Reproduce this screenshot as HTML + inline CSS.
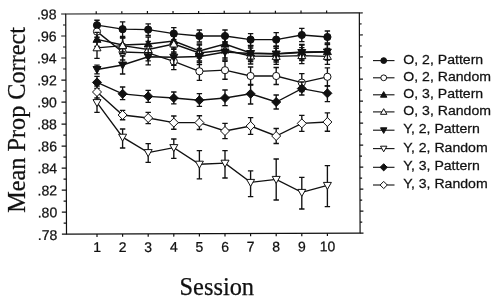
<!DOCTYPE html><html><head><meta charset="utf-8"><title>Chart</title><style>html,body{margin:0;padding:0;background:#fff}svg{display:block}text{fill:#111;stroke:#111;stroke-width:.25px}.a{font-family:"Liberation Sans",Arial,sans-serif}.t{font-family:"Liberation Serif","Times New Roman",serif}</style></head><body>
<svg width="499" height="302" viewBox="0 0 499 302">
<rect width="499" height="302" fill="#fff"/>
<g transform="rotate(-0.2 66.5 234.2)">
<g stroke="#111" stroke-width="1.2" fill="none" stroke-linecap="butt">
<rect x="66.5" y="14.0" width="293.6" height="220.2"/>
<path d="M61.9,14.0H66.5M360.1,14.0h3.4"/>
<path d="M63.7,25.0H66.5M360.1,25.0h2.2"/>
<path d="M61.9,36.0H66.5M360.1,36.0h3.4"/>
<path d="M63.7,47.0H66.5M360.1,47.0h2.2"/>
<path d="M61.9,58.0H66.5M360.1,58.0h3.4"/>
<path d="M63.7,69.0H66.5M360.1,69.0h2.2"/>
<path d="M61.9,80.1H66.5M360.1,80.1h3.4"/>
<path d="M63.7,91.1H66.5M360.1,91.1h2.2"/>
<path d="M61.9,102.1H66.5M360.1,102.1h3.4"/>
<path d="M63.7,113.1H66.5M360.1,113.1h2.2"/>
<path d="M61.9,124.1H66.5M360.1,124.1h3.4"/>
<path d="M63.7,135.1H66.5M360.1,135.1h2.2"/>
<path d="M61.9,146.1H66.5M360.1,146.1h3.4"/>
<path d="M63.7,157.1H66.5M360.1,157.1h2.2"/>
<path d="M61.9,168.1H66.5M360.1,168.1h3.4"/>
<path d="M63.7,179.2H66.5M360.1,179.2h2.2"/>
<path d="M61.9,190.2H66.5M360.1,190.2h3.4"/>
<path d="M63.7,201.2H66.5M360.1,201.2h2.2"/>
<path d="M61.9,212.2H66.5M360.1,212.2h3.4"/>
<path d="M63.7,223.2H66.5M360.1,223.2h2.2"/>
<path d="M61.9,234.2H66.5M360.1,234.2h3.4"/>
<path d="M97.0,234.2v2.8M97.0,14.0v-2.6"/>
<path d="M122.6,234.2v2.8M122.6,14.0v-2.6"/>
<path d="M148.2,234.2v2.8M148.2,14.0v-2.6"/>
<path d="M173.8,234.2v2.8M173.8,14.0v-2.6"/>
<path d="M199.4,234.2v2.8M199.4,14.0v-2.6"/>
<path d="M225.0,234.2v2.8M225.0,14.0v-2.6"/>
<path d="M250.6,234.2v2.8M250.6,14.0v-2.6"/>
<path d="M276.2,234.2v2.8M276.2,14.0v-2.6"/>
<path d="M301.8,234.2v2.8M301.8,14.0v-2.6"/>
<path d="M327.4,234.2v2.8M327.4,14.0v-2.6"/>
</g>
<text class="a" x="57.3" y="19.1" font-size="14.1" text-anchor="end">.98</text>
<text class="a" x="57.3" y="41.1" font-size="14.1" text-anchor="end">.96</text>
<text class="a" x="57.3" y="63.1" font-size="14.1" text-anchor="end">.94</text>
<text class="a" x="57.3" y="85.2" font-size="14.1" text-anchor="end">.92</text>
<text class="a" x="57.3" y="107.2" font-size="14.1" text-anchor="end">.90</text>
<text class="a" x="57.3" y="129.2" font-size="14.1" text-anchor="end">.88</text>
<text class="a" x="57.3" y="151.2" font-size="14.1" text-anchor="end">.86</text>
<text class="a" x="57.3" y="173.2" font-size="14.1" text-anchor="end">.84</text>
<text class="a" x="57.3" y="195.3" font-size="14.1" text-anchor="end">.82</text>
<text class="a" x="57.3" y="217.3" font-size="14.1" text-anchor="end">.80</text>
<text class="a" x="57.3" y="240.0" font-size="14.1" text-anchor="end">.78</text>
<text class="a" x="97.0" y="252.2" font-size="14" text-anchor="middle">1</text>
<text class="a" x="122.6" y="252.2" font-size="14" text-anchor="middle">2</text>
<text class="a" x="148.2" y="252.2" font-size="14" text-anchor="middle">3</text>
<text class="a" x="173.8" y="252.2" font-size="14" text-anchor="middle">4</text>
<text class="a" x="199.4" y="252.2" font-size="14" text-anchor="middle">5</text>
<text class="a" x="225.0" y="252.2" font-size="14" text-anchor="middle">6</text>
<text class="a" x="250.6" y="252.2" font-size="14" text-anchor="middle">7</text>
<text class="a" x="276.2" y="252.2" font-size="14" text-anchor="middle">8</text>
<text class="a" x="301.8" y="252.2" font-size="14" text-anchor="middle">9</text>
<text class="a" x="327.4" y="252.2" font-size="14" text-anchor="middle">10</text>
</g>
<text class="t" x="216.8" y="295" font-size="24.4" text-anchor="middle">Session</text>
<text class="t" transform="translate(24.8,119.9) rotate(-90)" font-size="24.25" text-anchor="middle">Mean Prop Correct</text>
<g stroke="#111" stroke-width="1.35" fill="none">
<polyline points="97.0,25.2 122.6,29.2 148.2,29.6 173.8,33.6 199.4,36.0 225.0,36.0 250.6,39.6 276.2,39.6 301.8,35.0 327.4,37.0"/>
<path d="M97.0,20.2V30.2M94.3,20.2h5.4M94.3,30.2h5.4M122.6,21.9V36.5M119.9,21.9h5.4M119.9,36.5h5.4M148.2,23.8V35.4M145.5,23.8h5.4M145.5,35.4h5.4M173.8,27.6V39.6M171.1,27.6h5.4M171.1,39.6h5.4M199.4,30.0V42.0M196.7,30.0h5.4M196.7,42.0h5.4M225.0,30.0V42.0M222.3,30.0h5.4M222.3,42.0h5.4M250.6,33.6V45.6M247.9,33.6h5.4M247.9,45.6h5.4M276.2,32.6V46.6M273.5,32.6h5.4M273.5,46.6h5.4M301.8,28.4V41.6M299.1,28.4h5.4M299.1,41.6h5.4M327.4,31.0V43.0M324.7,31.0h5.4M324.7,43.0h5.4"/>
</g>
<circle cx="97.0" cy="25.2" r="3.6" fill="#111" stroke="#111" stroke-width="1"/>
<circle cx="122.6" cy="29.2" r="3.6" fill="#111" stroke="#111" stroke-width="1"/>
<circle cx="148.2" cy="29.6" r="3.6" fill="#111" stroke="#111" stroke-width="1"/>
<circle cx="173.8" cy="33.6" r="3.6" fill="#111" stroke="#111" stroke-width="1"/>
<circle cx="199.4" cy="36.0" r="3.6" fill="#111" stroke="#111" stroke-width="1"/>
<circle cx="225.0" cy="36.0" r="3.6" fill="#111" stroke="#111" stroke-width="1"/>
<circle cx="250.6" cy="39.6" r="3.6" fill="#111" stroke="#111" stroke-width="1"/>
<circle cx="276.2" cy="39.6" r="3.6" fill="#111" stroke="#111" stroke-width="1"/>
<circle cx="301.8" cy="35.0" r="3.6" fill="#111" stroke="#111" stroke-width="1"/>
<circle cx="327.4" cy="37.0" r="3.6" fill="#111" stroke="#111" stroke-width="1"/>
<g stroke="#111" stroke-width="1.35" fill="none">
<polyline points="97.0,31.6 122.6,52.0 148.2,52.8 173.8,61.4 199.4,71.3 225.0,70.2 250.6,76.0 276.2,76.0 301.8,82.6 327.4,76.8"/>
<path d="M97.0,23.6V39.6M94.3,23.6h5.4M94.3,39.6h5.4M122.6,44.0V60.0M119.9,44.0h5.4M119.9,60.0h5.4M148.2,44.8V60.8M145.5,44.8h5.4M145.5,60.8h5.4M173.8,53.2V69.6M171.1,53.2h5.4M171.1,69.6h5.4M199.4,62.3V80.3M196.7,62.3h5.4M196.7,80.3h5.4M225.0,61.2V79.2M222.3,61.2h5.4M222.3,79.2h5.4M250.6,67.0V85.0M247.9,67.0h5.4M247.9,85.0h5.4M276.2,67.5V84.5M273.5,67.5h5.4M273.5,84.5h5.4M301.8,73.6V91.6M299.1,73.6h5.4M299.1,91.6h5.4M327.4,67.8V85.8M324.7,67.8h5.4M324.7,85.8h5.4"/>
</g>
<circle cx="97.0" cy="31.6" r="3.6" fill="#fff" stroke="#111" stroke-width="1"/>
<circle cx="122.6" cy="52.0" r="3.6" fill="#fff" stroke="#111" stroke-width="1"/>
<circle cx="148.2" cy="52.8" r="3.6" fill="#fff" stroke="#111" stroke-width="1"/>
<circle cx="173.8" cy="61.4" r="3.6" fill="#fff" stroke="#111" stroke-width="1"/>
<circle cx="199.4" cy="71.3" r="3.6" fill="#fff" stroke="#111" stroke-width="1"/>
<circle cx="225.0" cy="70.2" r="3.6" fill="#fff" stroke="#111" stroke-width="1"/>
<circle cx="250.6" cy="76.0" r="3.6" fill="#fff" stroke="#111" stroke-width="1"/>
<circle cx="276.2" cy="76.0" r="3.6" fill="#fff" stroke="#111" stroke-width="1"/>
<circle cx="301.8" cy="82.6" r="3.6" fill="#fff" stroke="#111" stroke-width="1"/>
<circle cx="327.4" cy="76.8" r="3.6" fill="#fff" stroke="#111" stroke-width="1"/>
<g stroke="#111" stroke-width="1.35" fill="none">
<polyline points="97.0,39.3 122.6,45.0 148.2,44.0 173.8,41.0 199.4,51.0 225.0,44.0 250.6,53.0 276.2,53.6 301.8,52.0 327.4,51.6"/>
<path d="M97.0,32.3V46.3M94.3,32.3h5.4M94.3,46.3h5.4M122.6,38.0V52.0M119.9,38.0h5.4M119.9,52.0h5.4M148.2,37.0V51.0M145.5,37.0h5.4M145.5,51.0h5.4M173.8,34.0V48.0M171.1,34.0h5.4M171.1,48.0h5.4M199.4,44.0V58.0M196.7,44.0h5.4M196.7,58.0h5.4M225.0,37.0V51.0M222.3,37.0h5.4M222.3,51.0h5.4M250.6,46.0V60.0M247.9,46.0h5.4M247.9,60.0h5.4M276.2,46.6V60.6M273.5,46.6h5.4M273.5,60.6h5.4M301.8,45.0V59.0M299.1,45.0h5.4M299.1,59.0h5.4M327.4,44.6V58.6M324.7,44.6h5.4M324.7,58.6h5.4"/>
</g>
<polygon points="97.0,35.3 93.0,42.3 101.0,42.3" fill="#111" stroke="#111" stroke-width="1"/>
<polygon points="122.6,41.0 118.6,48.0 126.6,48.0" fill="#111" stroke="#111" stroke-width="1"/>
<polygon points="148.2,40.0 144.2,47.0 152.2,47.0" fill="#111" stroke="#111" stroke-width="1"/>
<polygon points="173.8,37.0 169.8,44.0 177.8,44.0" fill="#111" stroke="#111" stroke-width="1"/>
<polygon points="199.4,47.0 195.4,54.0 203.4,54.0" fill="#111" stroke="#111" stroke-width="1"/>
<polygon points="225.0,40.0 221.0,47.0 229.0,47.0" fill="#111" stroke="#111" stroke-width="1"/>
<polygon points="250.6,49.0 246.6,56.0 254.6,56.0" fill="#111" stroke="#111" stroke-width="1"/>
<polygon points="276.2,49.6 272.2,56.6 280.2,56.6" fill="#111" stroke="#111" stroke-width="1"/>
<polygon points="301.8,48.0 297.8,55.0 305.8,55.0" fill="#111" stroke="#111" stroke-width="1"/>
<polygon points="327.4,47.6 323.4,54.6 331.4,54.6" fill="#111" stroke="#111" stroke-width="1"/>
<g stroke="#111" stroke-width="1.35" fill="none">
<polyline points="97.0,47.8 122.6,45.6 148.2,49.5 173.8,44.0 199.4,53.0 225.0,50.0 250.6,56.0 276.2,56.4 301.8,55.6 327.4,56.4"/>
<path d="M97.0,37.2V58.4M94.3,37.2h5.4M94.3,58.4h5.4M122.6,37.6V53.6M119.9,37.6h5.4M119.9,53.6h5.4M148.2,41.5V57.5M145.5,41.5h5.4M145.5,57.5h5.4M173.8,36.0V52.0M171.1,36.0h5.4M171.1,52.0h5.4M199.4,45.0V61.0M196.7,45.0h5.4M196.7,61.0h5.4M225.0,42.0V58.0M222.3,42.0h5.4M222.3,58.0h5.4M250.6,48.0V64.0M247.9,48.0h5.4M247.9,64.0h5.4M276.2,48.4V64.4M273.5,48.4h5.4M273.5,64.4h5.4M301.8,47.6V63.6M299.1,47.6h5.4M299.1,63.6h5.4M327.4,48.4V64.4M324.7,48.4h5.4M324.7,64.4h5.4"/>
</g>
<polygon points="97.0,43.8 93.0,50.8 101.0,50.8" fill="#fff" stroke="#111" stroke-width="1"/>
<polygon points="122.6,41.6 118.6,48.6 126.6,48.6" fill="#fff" stroke="#111" stroke-width="1"/>
<polygon points="148.2,45.5 144.2,52.5 152.2,52.5" fill="#fff" stroke="#111" stroke-width="1"/>
<polygon points="173.8,40.0 169.8,47.0 177.8,47.0" fill="#fff" stroke="#111" stroke-width="1"/>
<polygon points="199.4,49.0 195.4,56.0 203.4,56.0" fill="#fff" stroke="#111" stroke-width="1"/>
<polygon points="225.0,46.0 221.0,53.0 229.0,53.0" fill="#fff" stroke="#111" stroke-width="1"/>
<polygon points="250.6,52.0 246.6,59.0 254.6,59.0" fill="#fff" stroke="#111" stroke-width="1"/>
<polygon points="276.2,52.4 272.2,59.4 280.2,59.4" fill="#fff" stroke="#111" stroke-width="1"/>
<polygon points="301.8,51.6 297.8,58.6 305.8,58.6" fill="#fff" stroke="#111" stroke-width="1"/>
<polygon points="327.4,52.4 323.4,59.4 331.4,59.4" fill="#fff" stroke="#111" stroke-width="1"/>
<g stroke="#111" stroke-width="1.35" fill="none">
<polyline points="97.0,69.5 122.6,65.0 148.2,56.8 173.8,57.2 199.4,56.5 225.0,52.0 250.6,53.5 276.2,54.0 301.8,52.5 327.4,52.0"/>
<path d="M97.0,65.1V73.9M94.3,65.1h5.4M94.3,73.9h5.4M122.6,56.0V74.0M119.9,56.0h5.4M119.9,74.0h5.4M148.2,48.8V64.8M145.5,48.8h5.4M145.5,64.8h5.4M173.8,49.2V65.2M171.1,49.2h5.4M171.1,65.2h5.4M199.4,48.5V64.5M196.7,48.5h5.4M196.7,64.5h5.4M225.0,44.0V60.0M222.3,44.0h5.4M222.3,60.0h5.4M250.6,45.5V61.5M247.9,45.5h5.4M247.9,61.5h5.4M276.2,46.0V62.0M273.5,46.0h5.4M273.5,62.0h5.4M301.8,44.5V60.5M299.1,44.5h5.4M299.1,60.5h5.4M327.4,44.0V60.0M324.7,44.0h5.4M324.7,60.0h5.4"/>
</g>
<polygon points="97.0,73.5 93.0,66.5 101.0,66.5" fill="#111" stroke="#111" stroke-width="1"/>
<polygon points="122.6,69.0 118.6,62.0 126.6,62.0" fill="#111" stroke="#111" stroke-width="1"/>
<polygon points="148.2,60.8 144.2,53.8 152.2,53.8" fill="#111" stroke="#111" stroke-width="1"/>
<polygon points="173.8,61.2 169.8,54.2 177.8,54.2" fill="#111" stroke="#111" stroke-width="1"/>
<polygon points="199.4,60.5 195.4,53.5 203.4,53.5" fill="#111" stroke="#111" stroke-width="1"/>
<polygon points="225.0,56.0 221.0,49.0 229.0,49.0" fill="#111" stroke="#111" stroke-width="1"/>
<polygon points="250.6,57.5 246.6,50.5 254.6,50.5" fill="#111" stroke="#111" stroke-width="1"/>
<polygon points="276.2,58.0 272.2,51.0 280.2,51.0" fill="#111" stroke="#111" stroke-width="1"/>
<polygon points="301.8,56.5 297.8,49.5 305.8,49.5" fill="#111" stroke="#111" stroke-width="1"/>
<polygon points="327.4,56.0 323.4,49.0 331.4,49.0" fill="#111" stroke="#111" stroke-width="1"/>
<g stroke="#111" stroke-width="1.35" fill="none">
<polyline points="97.0,102.6 122.6,137.2 148.2,152.6 173.8,147.6 199.4,164.2 225.0,163.2 250.6,182.4 276.2,179.4 301.8,192.4 327.4,185.4"/>
<path d="M97.0,92.6V112.4M94.3,92.6h5.4M94.3,112.4h5.4M122.6,129.0V148.0M119.9,129.0h5.4M119.9,148.0h5.4M148.2,143.6V162.4M145.5,143.6h5.4M145.5,162.4h5.4M173.8,139.0V158.4M171.1,139.0h5.4M171.1,158.4h5.4M199.4,150.6V178.8M196.7,150.6h5.4M196.7,178.8h5.4M225.0,150.6V178.0M222.3,150.6h5.4M222.3,178.0h5.4M250.6,170.8V196.6M247.9,170.8h5.4M247.9,196.6h5.4M276.2,159.0V200.0M273.5,159.0h5.4M273.5,200.0h5.4M301.8,177.4V209.0M299.1,177.4h5.4M299.1,209.0h5.4M327.4,165.6V206.6M324.7,165.6h5.4M324.7,206.6h5.4"/>
</g>
<polygon points="97.0,106.6 93.0,99.6 101.0,99.6" fill="#fff" stroke="#111" stroke-width="1"/>
<polygon points="122.6,141.2 118.6,134.2 126.6,134.2" fill="#fff" stroke="#111" stroke-width="1"/>
<polygon points="148.2,156.6 144.2,149.6 152.2,149.6" fill="#fff" stroke="#111" stroke-width="1"/>
<polygon points="173.8,151.6 169.8,144.6 177.8,144.6" fill="#fff" stroke="#111" stroke-width="1"/>
<polygon points="199.4,168.2 195.4,161.2 203.4,161.2" fill="#fff" stroke="#111" stroke-width="1"/>
<polygon points="225.0,167.2 221.0,160.2 229.0,160.2" fill="#fff" stroke="#111" stroke-width="1"/>
<polygon points="250.6,186.4 246.6,179.4 254.6,179.4" fill="#fff" stroke="#111" stroke-width="1"/>
<polygon points="276.2,183.4 272.2,176.4 280.2,176.4" fill="#fff" stroke="#111" stroke-width="1"/>
<polygon points="301.8,196.4 297.8,189.4 305.8,189.4" fill="#fff" stroke="#111" stroke-width="1"/>
<polygon points="327.4,189.4 323.4,182.4 331.4,182.4" fill="#fff" stroke="#111" stroke-width="1"/>
<g stroke="#111" stroke-width="1.35" fill="none">
<polyline points="97.0,82.4 122.6,93.8 148.2,96.3 173.8,98.0 199.4,100.2 225.0,98.0 250.6,93.8 276.2,102.0 301.8,88.6 327.4,93.3"/>
<path d="M97.0,76.4V88.4M94.3,76.4h5.4M94.3,88.4h5.4M122.6,87.0V99.6M119.9,87.0h5.4M119.9,99.6h5.4M148.2,90.4V102.4M145.5,90.4h5.4M145.5,102.4h5.4M173.8,92.0V103.8M171.1,92.0h5.4M171.1,103.8h5.4M199.4,93.6V106.4M196.7,93.6h5.4M196.7,106.4h5.4M225.0,90.0V105.6M222.3,90.0h5.4M222.3,105.6h5.4M250.6,84.5V104.0M247.9,84.5h5.4M247.9,104.0h5.4M276.2,95.0V109.0M273.5,95.0h5.4M273.5,109.0h5.4M301.8,82.0V95.0M299.1,82.0h5.4M299.1,95.0h5.4M327.4,86.0V101.6M324.7,86.0h5.4M324.7,101.6h5.4"/>
</g>
<polygon points="97.0,77.9 101.5,82.4 97.0,86.9 92.5,82.4" fill="#111" stroke="#111" stroke-width="1"/>
<polygon points="122.6,89.3 127.1,93.8 122.6,98.3 118.1,93.8" fill="#111" stroke="#111" stroke-width="1"/>
<polygon points="148.2,91.8 152.7,96.3 148.2,100.8 143.7,96.3" fill="#111" stroke="#111" stroke-width="1"/>
<polygon points="173.8,93.5 178.3,98.0 173.8,102.5 169.3,98.0" fill="#111" stroke="#111" stroke-width="1"/>
<polygon points="199.4,95.7 203.9,100.2 199.4,104.7 194.9,100.2" fill="#111" stroke="#111" stroke-width="1"/>
<polygon points="225.0,93.5 229.5,98.0 225.0,102.5 220.5,98.0" fill="#111" stroke="#111" stroke-width="1"/>
<polygon points="250.6,89.3 255.1,93.8 250.6,98.3 246.1,93.8" fill="#111" stroke="#111" stroke-width="1"/>
<polygon points="276.2,97.5 280.7,102.0 276.2,106.5 271.7,102.0" fill="#111" stroke="#111" stroke-width="1"/>
<polygon points="301.8,84.1 306.3,88.6 301.8,93.1 297.3,88.6" fill="#111" stroke="#111" stroke-width="1"/>
<polygon points="327.4,88.8 331.9,93.3 327.4,97.8 322.9,93.3" fill="#111" stroke="#111" stroke-width="1"/>
<g stroke="#111" stroke-width="1.35" fill="none">
<polyline points="97.0,92.0 122.6,115.0 148.2,118.0 173.8,122.6 199.4,122.6 225.0,131.0 250.6,126.0 276.2,136.0 301.8,123.4 327.4,122.0"/>
<path d="M97.0,86.0V98.0M94.3,86.0h5.4M94.3,98.0h5.4M122.6,110.3V119.7M119.9,110.3h5.4M119.9,119.7h5.4M148.2,112.4V123.6M145.5,112.4h5.4M145.5,123.6h5.4M173.8,116.0V129.2M171.1,116.0h5.4M171.1,129.2h5.4M199.4,115.7V129.5M196.7,115.7h5.4M196.7,129.5h5.4M225.0,123.4V138.6M222.3,123.4h5.4M222.3,138.6h5.4M250.6,117.6V134.4M247.9,117.6h5.4M247.9,134.4h5.4M276.2,128.5V143.5M273.5,128.5h5.4M273.5,143.5h5.4M301.8,115.4V131.4M299.1,115.4h5.4M299.1,131.4h5.4M327.4,112.8V131.2M324.7,112.8h5.4M324.7,131.2h5.4"/>
</g>
<polygon points="97.0,87.5 101.5,92.0 97.0,96.5 92.5,92.0" fill="#fff" stroke="#111" stroke-width="1"/>
<polygon points="122.6,110.5 127.1,115.0 122.6,119.5 118.1,115.0" fill="#fff" stroke="#111" stroke-width="1"/>
<polygon points="148.2,113.5 152.7,118.0 148.2,122.5 143.7,118.0" fill="#fff" stroke="#111" stroke-width="1"/>
<polygon points="173.8,118.1 178.3,122.6 173.8,127.1 169.3,122.6" fill="#fff" stroke="#111" stroke-width="1"/>
<polygon points="199.4,118.1 203.9,122.6 199.4,127.1 194.9,122.6" fill="#fff" stroke="#111" stroke-width="1"/>
<polygon points="225.0,126.5 229.5,131.0 225.0,135.5 220.5,131.0" fill="#fff" stroke="#111" stroke-width="1"/>
<polygon points="250.6,121.5 255.1,126.0 250.6,130.5 246.1,126.0" fill="#fff" stroke="#111" stroke-width="1"/>
<polygon points="276.2,131.5 280.7,136.0 276.2,140.5 271.7,136.0" fill="#fff" stroke="#111" stroke-width="1"/>
<polygon points="301.8,118.9 306.3,123.4 301.8,127.9 297.3,123.4" fill="#fff" stroke="#111" stroke-width="1"/>
<polygon points="327.4,117.5 331.9,122.0 327.4,126.5 322.9,122.0" fill="#fff" stroke="#111" stroke-width="1"/>
<path d="M373,60.6H394.5" stroke="#111" stroke-width="1.1"/>
<circle cx="383.7" cy="60.6" r="2.9" fill="#111" stroke="#111" stroke-width="1"/>
<text class="a" transform="translate(403.3,63.7) scale(1.03,1)" font-size="13.7">O, 2, Pattern</text>
<path d="M373,77.8H394.5" stroke="#111" stroke-width="1.1"/>
<circle cx="383.7" cy="77.8" r="2.9" fill="#fff" stroke="#111" stroke-width="1"/>
<text class="a" transform="translate(403.3,80.9) scale(1.03,1)" font-size="13.7">O, 2, Random</text>
<path d="M373,94.8H394.5" stroke="#111" stroke-width="1.1"/>
<polygon points="383.7,91.6 380.5,97.2 386.9,97.2" fill="#111" stroke="#111" stroke-width="1"/>
<text class="a" transform="translate(403.3,97.9) scale(1.03,1)" font-size="13.7">O, 3, Pattern</text>
<path d="M373,111.9H394.5" stroke="#111" stroke-width="1.1"/>
<polygon points="383.7,108.7 380.5,114.3 386.9,114.3" fill="#fff" stroke="#111" stroke-width="1"/>
<text class="a" transform="translate(403.3,115.0) scale(1.03,1)" font-size="13.7">O, 3, Random</text>
<path d="M373,130.2H394.5" stroke="#111" stroke-width="1.1"/>
<polygon points="383.7,133.4 380.5,127.8 386.9,127.8" fill="#111" stroke="#111" stroke-width="1"/>
<text class="a" transform="translate(403.3,133.3) scale(1.03,1)" font-size="13.7">Y, 2, Pattern</text>
<path d="M373,148.6H394.5" stroke="#111" stroke-width="1.1"/>
<polygon points="383.7,151.8 380.5,146.2 386.9,146.2" fill="#fff" stroke="#111" stroke-width="1"/>
<text class="a" transform="translate(403.3,151.7) scale(1.03,1)" font-size="13.7">Y, 2, Random</text>
<path d="M373,167.3H394.5" stroke="#111" stroke-width="1.1"/>
<polygon points="383.7,163.7 387.3,167.3 383.7,170.9 380.1,167.3" fill="#111" stroke="#111" stroke-width="1"/>
<text class="a" transform="translate(403.3,170.4) scale(1.03,1)" font-size="13.7">Y, 3, Pattern</text>
<path d="M373,185.0H394.5" stroke="#111" stroke-width="1.1"/>
<polygon points="383.7,181.4 387.3,185.0 383.7,188.6 380.1,185.0" fill="#fff" stroke="#111" stroke-width="1"/>
<text class="a" transform="translate(403.3,188.1) scale(1.03,1)" font-size="13.7">Y, 3, Random</text>
</svg></body></html>
